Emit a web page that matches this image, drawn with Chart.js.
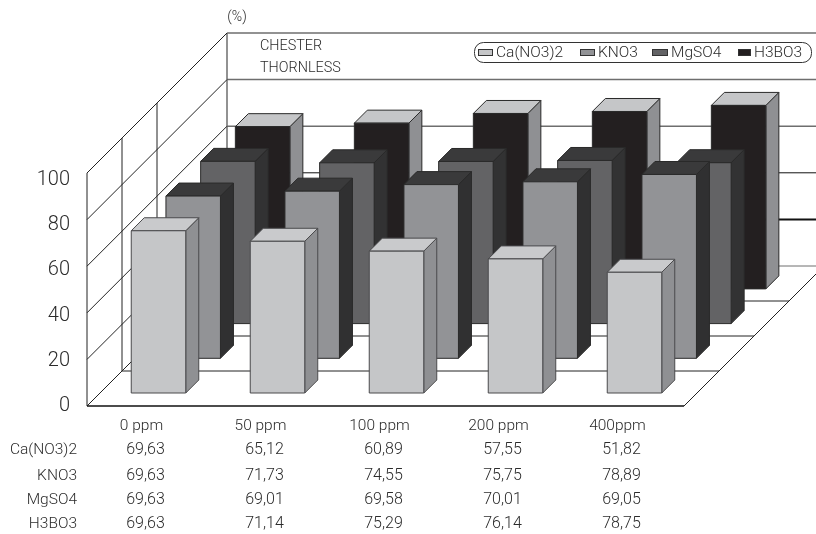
<!DOCTYPE html>
<html>
<head>
<meta charset="utf-8">
<title>Chester Thornless</title>
<script src="https://cdn.jsdelivr.net/npm/chart.js@4"></script>
<style>
    html, body { margin: 0; padding: 0; background: #fff; }
    canvas { display: block; }
</style>
</head>
<body>
<canvas id="chart" width="816" height="534"></canvas>
<script>
const categories = ['0 ppm', '50 ppm', '100 ppm', '200 ppm', '400ppm'];
const seriesNames = ['Ca(NO3)2', 'KNO3', 'MgSO4', 'H3BO3'];
const caValues = [69.63, 65.12, 60.89, 57.55, 51.82];
const knoValues = [69.63, 71.73, 74.55, 75.75, 78.89];
const mgsoValues = [69.63, 69.01, 69.58, 70.01, 69.05];
const hboValues = [69.63, 71.14, 75.29, 76.14, 78.75];
const yTicks = [0, 20, 40, 60, 80, 100];
const titleLines = ['CHESTER', 'THORNLESS'];

const FONT = 'Roboto, "Liberation Sans", sans-serif';
const TEXT = '#2b2b2b';

// front, top, side and outline colours of each box
const boxColors = [
    { front: '#c5c6c8', top: '#c9cacc', side: '#8f9093', line: '#4a4a4c' },
    { front: '#929396', top: '#3a3a3b', side: '#303031', line: '#2a2a2a' },
    { front: '#636365', top: '#3a3a3b', side: '#323233', line: '#2a2a2a' },
    { front: '#231f20', top: '#c5c6c8', side: '#8f9093', line: '#2a2a2a' }
];

const WALL_DEPTH = 140;
const BAR_DEPTH = 13;
const ROW_STEP = 34.7;
const ROW_DX = 12;
const ROW_DY = 13;
// the floor runs slightly past the last category slot
const FLOOR_EXTRA = 2;

function line(ctx, x1, y1, x2, y2, color, width) {
    ctx.beginPath();
    ctx.moveTo(x1, y1);
    ctx.lineTo(x2, y2);
    ctx.strokeStyle = color;
    ctx.lineWidth = width;
    ctx.stroke();
}

function poly(ctx, pts, fill, stroke) {
    ctx.beginPath();
    pts.forEach((p, i) => i ? ctx.lineTo(p[0], p[1]) : ctx.moveTo(p[0], p[1]));
    ctx.closePath();
    ctx.fillStyle = fill;
    ctx.fill();
    ctx.strokeStyle = stroke;
    ctx.lineWidth = 1;
    ctx.stroke();
}

function drawWalls(chart) {
    const ctx = chart.ctx;
    const xs = chart.scales.x;
    const ys = chart.scales.y;
    const left = xs.left, right = xs.right + FLOOR_EXTRA, floor = ys.bottom, d = WALL_DEPTH;

    // back wall
    yTicks.forEach(v => {
        const y = ys.getPixelForValue(v) - d;
        const color = v >= 60 || v === 0 ? '#6e6e6e' : '#111';
        line(ctx, left + d, y, right + d, y, color, v === 20 ? 2 : (v >= 60 ? 1.5 : 1));
    });
    line(ctx, left + d, ys.top - d, left + d, floor - d, '#6e6e6e', 1.5);

    // left wall
    yTicks.forEach(v => {
        const y = ys.getPixelForValue(v);
        line(ctx, left, y, left + d, y - d, '#222', 1);
    });
    line(ctx, left, ys.top, left, floor, '#222', 1);
    [1, 2].forEach(k => {
        const off = d * k / 4;
        line(ctx, left + off, ys.top - off, left + off, floor - off, '#222', 1);
    });

    // floor
    [1, 2, 3].forEach(k => {
        const off = d * k / 4;
        line(ctx, left + off, floor - off, right + off, floor - off, '#222', 1);
    });
    line(ctx, left, floor, right, floor, '#111', 1.5);
    line(ctx, right, floor, right + d, floor - d, '#222', 1);
}

function drawBox(ctx, bar, row, colors) {
    const dx = ROW_DX + ROW_STEP * row;
    const dy = ROW_DY + ROW_STEP * row;
    const l = bar.x - bar.width / 2 + dx;
    const r = bar.x + bar.width / 2 + dx;
    const t = bar.y - dy;
    const b = bar.base - dy;
    const k = BAR_DEPTH;
    poly(ctx, [[r, t], [r + k, t - k], [r + k, b - k], [r, b]], colors.side, colors.line);
    poly(ctx, [[l, t], [l + k, t - k], [r + k, t - k], [r, t]], colors.top, colors.line);
    poly(ctx, [[l, t], [r, t], [r, b], [l, b]], colors.front, colors.line);
}

// the bars are rebuilt as boxes from their own elements, back row first
const boxPlugin = {
    id: 'boxes',
    beforeDatasetsDraw(chart) {
        drawWalls(chart);
        for (let row = seriesNames.length - 1; row >= 0; row--) {
            chart.getDatasetMeta(row).data.forEach(bar => {
                drawBox(chart.ctx, bar, row, boxColors[row]);
            });
        }
        return false;
    }
};

function drawLegend(ctx) {
    ctx.beginPath();
    ctx.roundRect(474.5, 42.5, 337, 20, 9);
    ctx.strokeStyle = '#333';
    ctx.lineWidth = 1;
    ctx.stroke();
    const swatchX = [478, 580, 652, 738];
    const swatchW = [14, 14, 15, 12];
    ctx.font = '300 15.5px ' + FONT;
    ctx.textAlign = 'left';
    ctx.textBaseline = 'middle';
    seriesNames.forEach((name, i) => {
        ctx.fillStyle = boxColors[i].front;
        ctx.strokeStyle = '#333';
        ctx.lineWidth = 1;
        ctx.fillRect(swatchX[i] + 0.5, 49.5, swatchW[i], 6);
        ctx.strokeRect(swatchX[i] + 0.5, 49.5, swatchW[i], 6);
        ctx.fillStyle = TEXT;
        ctx.fillText(name, swatchX[i] + swatchW[i] + 4, 53);
    });
}

const textPlugin = {
    id: 'texts',
    afterDraw(chart) {
        const ctx = chart.ctx;
        const xs = chart.scales.x;
        ctx.save();
        ctx.fillStyle = TEXT;
        ctx.textBaseline = 'middle';

        ctx.font = '300 14px ' + FONT;
        ctx.textAlign = 'center';
        ctx.fillText('(%)', 237, 17);

        ctx.font = '300 14.4px ' + FONT;
        ctx.textAlign = 'left';
        titleLines.forEach((t, i) => ctx.fillText(t, 260, 46 + i * 22));

        drawLegend(ctx);

        // value table under the floor, one row per series
        ctx.fillStyle = TEXT;
        ctx.font = '300 15.5px ' + FONT;
        ctx.textAlign = 'center';
        categories.forEach((c, i) => {
            ctx.fillText(c, xs.getPixelForValue(i) - 5, 426);
        });
        const rowY = [450, 476, 500, 524];
        seriesNames.forEach((name, row) => {
            ctx.font = '300 15.5px ' + FONT;
            ctx.textAlign = 'right';
            ctx.fillText(name, 77, rowY[row]);
            ctx.font = '300 16px ' + FONT;
            ctx.textAlign = 'center';
            chart.data.datasets[row].data.forEach((v, i) => {
                ctx.fillText(v.toFixed(2).replace('.', ','), xs.getPixelForValue(i) - 1, rowY[row]);
            });
        });
        ctx.restore();
    }
};

new Chart(document.getElementById('chart'), {
    type: 'bar',
    data: {
        labels: categories,
        datasets: [caValues, knoValues, mgsoValues, hboValues].map((values, i) => ({
            label: seriesNames[i],
            data: values,
            yAxisID: 'y',
            backgroundColor: boxColors[i].front,
            grouped: false,
            categoryPercentage: 1,
            barPercentage: 0.458
        }))
    },
    options: {
        responsive: false,
        animation: false,
        layout: { padding: { left: 0, top: 173, right: 134, bottom: 128 } },
        plugins: { legend: { display: false }, tooltip: { enabled: false } },
        scales: {
            x: { display: false },
            y: { display: false, min: 0, max: 100 },
            // labels of the value axis sit a little closer together than the wall lines
            yLabels: {
                position: 'left',
                min: 0,
                max: 103.1,
                grid: { display: false, drawTicks: false },
                border: { display: false },
                afterBuildTicks(scale) { scale.ticks = yTicks.map(v => ({ value: v })); },
                afterFit(scale) { scale.width = 87; },
                ticks: {
                    autoSkip: false,
                    padding: 17,
                    color: TEXT,
                    font: { family: FONT, size: 20, weight: 300 },
                    callback: v => String(v)
                }
            }
        }
    },
    plugins: [boxPlugin, textPlugin]
});
</script>
</body>
</html>
